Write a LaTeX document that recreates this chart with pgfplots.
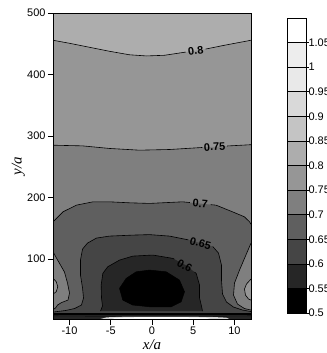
\documentclass[border=0pt]{standalone}
\usepackage{fontspec}
\setmainfont{Liberation Sans}
\newfontfamily\tnr{Liberation Serif}
\usepackage{pgfplots}
\pgfplotsset{compat=1.18}
\definecolor{c55}{HTML}{262626}
\definecolor{c60}{HTML}{454545}
\definecolor{c65}{HTML}{5F5F5F}
\definecolor{c70}{HTML}{7F7F7F}
\definecolor{c75}{HTML}{969696}
\definecolor{c80}{HTML}{ADADAD}
\definecolor{c85}{HTML}{C4C4C4}
\definecolor{c90}{HTML}{D9D9D9}
\definecolor{c95}{HTML}{E9E9E9}
\definecolor{c100}{HTML}{EDEDED}
\tikzset{cl/.style={black, line width=0.6bp, line join=round},
         lab/.style={font=\bfseries\fontsize{11}{13}\selectfont, inner sep=0pt}}
\begin{document}
\begin{tikzpicture}
\path[use as bounding box] (0,0) rectangle (327bp,353bp);
\begin{axis}[
  at={(53bp,33.5bp)}, anchor=south west, scale only axis,
  width=198bp, height=306.5bp,
  xmin=-12, xmax=12, ymin=2, ymax=500,
  xtick={-10,-5,0,5,10}, ytick={100,200,300,400,500},
  xtick pos=bottom, ytick pos=left, tick align=outside, major tick length=5bp,
  tick style={black, line width=0.6bp},
  axis line style={line width=0.8bp},
  ticklabel style={font=\fontsize{11}{13}\selectfont},
  xticklabel style={yshift=1bp},
  yticklabel style={xshift=1bp},
  /pgf/number format/assume math mode=true,
  xlabel={\tnr\itshape x/a}, ylabel={\tnr\itshape y/a},
  xlabel style={at={(axis description cs:0.5,-0.082)}, anchor=center, font=\fontsize{15}{17}\selectfont},
  ylabel style={at={(axis description cs:-0.175,0.5)}, anchor=center, font=\fontsize{15}{17}\selectfont},
  axis on top,
]
% fills
\addplot[fill=c80, draw=none] coordinates {(-12,0) (12,0) (12,500) (-12,500)};
\addplot[fill=c75, draw=none] coordinates {(-12,0) (-12,455.7) (-10,450.8) (-7.58,444.3) (-5.15,437.8) (-2.73,432.1) (-0.67,430.2) (1.52,431.3) (3.94,436.2) (6.36,441.1) (8.79,447.6) (12,455.7) (12,0)};
\addplot[fill=c70, draw=none] coordinates {(-12,0) (-12,285.2) (-8.42,284.1) (-5.15,279.9) (-1.52,277.1) (2.12,278.2) (5.76,281.2) (8.79,283.6) (12,286.0) (12,0)};
\addplot[fill=c65, draw=none] coordinates {(-12,160.7) (-10.78,177.0) (-9.16,187.8) (-7.15,193.2) (-5.15,193.2) (-2.73,191.6) (-0.30,190.6) (3.70,193.2) (7.76,187.8) (9.75,177.0) (11.21,168.8) (11.82,160.7) (12,157.0)
  (12,126.1) (11.33,105.0) (10.61,82.3) (10.0,61.2) (9.88,41.7) (10.36,27.1) (11.21,19.8) (12,17.4) (12,0) (-12,0)
  (-12,18.2) (-11.70,20.6) (-11.45,25.5) (-10.97,29.5) (-10.18,33.6) (-10.0,45.0) (-10.24,61.2) (-10.61,79.1) (-11.09,90.4) (-11.58,101.8) (-12,112.0)};
\addplot[fill=c75, draw=none] coordinates {(-12,69.3) (-11.61,63.3) (-11.42,55.2) (-11.61,47.1) (-12,43.3)};
\addplot[fill=c75, draw=none] coordinates {(12,67.7) (11.45,59.6) (11.21,51.5) (11.33,41.7) (11.7,35.2) (12,33.6)};
\addplot[fill=c60, draw=none] coordinates {(-12,14.1) (-10.48,16.6) (-9.39,19.8) (-8.55,25.5) (-8.30,36.9) (-8.42,53.1) (-8.67,74.2) (-8.67,98.5) (-8.42,116.4) (-7.82,126.1) (-6.73,134.3) (-5.15,137.5) (-2.36,139.1) (-0.30,139.9) (2.12,137.5) (4.55,131.0) (7.21,121.3) (8.06,109.9) (8.42,90.4) (8.42,66.1) (8.55,43.3) (9.03,30.4) (9.88,22.2) (10.97,17.4) (12,14.9) (12,0) (-12,0)};
\addplot[fill=c55, draw=none] coordinates {(-6.24,15.7) (-6.0,23.9) (-6.12,36.9) (-6.16,58.0) (-5.96,76.9) (-5.36,87.7) (-3.94,98.5) (-2.33,105.0) (0.10,106.7) (2.52,101.3) (4.06,90.4) (5.36,76.9) (5.76,58.0) (5.76,36.9) (6.0,23.9) (6.12,15.7)};
\addplot[fill=black, draw=black, line width=0.5bp] coordinates {(-3.94,52.6) (-3.13,68.8) (-1.92,79.5) (-0.30,82.3) (1.72,79.5) (3.33,66.1) (3.94,47.1) (3.54,30.8) (2.33,22.7) (-0.30,22.7) (-2.33,25.5) (-3.54,33.6) (-3.94,52.6)};
% near-wall strip
\addplot[fill=c55, draw=none] coordinates {(-12,0) (12,0) (12,11.5) (-12,11.5)};
\addplot[fill=c90, draw=none] coordinates {(-7,0) (-5.5,5.5) (-3,6.8) (3,6.8) (7,6.3) (9,5) (9.8,0)};
\addplot[fill=white, draw=none] coordinates {(-5.5,0) (-4.5,4.5) (-3,5.6) (0,5.8) (4,5.8) (6.5,5) (7.8,0)};
\addplot[cl, line width=0.4bp] coordinates {(-12,11.8) (12,11.8)};
\addplot[cl, line width=0.4bp] coordinates {(-12,9.8) (12,9.8)};
\addplot[cl, line width=0.4bp] coordinates {(-12,7.8) (-8,7.6) (-5,7.5) (0,7.5) (5,7.5) (9,7.6) (12,7.8)};
% contour lines
\addplot[cl] coordinates {(-12,455.7) (-10,450.8) (-7.58,444.3) (-5.15,437.8) (-2.73,432.1) (-0.67,430.2) (1.52,431.3) (3.94,436.2) (4.1,436.5)};
\addplot[cl] coordinates {(6.5,441.4) (8.79,447.6) (12,455.7)};
\addplot[cl] coordinates {(-12,285.2) (-8.42,284.1) (-5.15,279.9) (-1.52,277.1) (2.12,278.2) (5.76,281.2) (6.1,281.5)};
\addplot[cl] coordinates {(9.1,283.9) (12,286.0)};
\addplot[cl] coordinates {(-12,160.7) (-10.78,177.0) (-9.16,187.8) (-7.15,193.2) (-5.15,193.2) (-2.73,191.6) (-0.30,190.6) (3.70,193.2) (4.6,192.0)};
\addplot[cl] coordinates {(7.1,188.6) (7.76,187.8) (9.75,177.0) (11.21,168.8) (11.82,160.7) (12,157.0)};
\addplot[cl] coordinates {(12,126.1) (11.33,105.0) (10.61,82.3) (10.0,61.2) (9.88,41.7) (10.36,27.1) (11.21,19.8) (12,17.4)};
\addplot[cl] coordinates {(-12,18.2) (-11.70,20.6) (-11.45,25.5) (-10.97,29.5) (-10.18,33.6) (-10.0,45.0) (-10.24,61.2) (-10.61,79.1) (-11.09,90.4) (-11.58,101.8) (-12,112.0)};
\addplot[cl] coordinates {(-12,69.3) (-11.61,63.3) (-11.42,55.2) (-11.61,47.1) (-12,43.3)};
\addplot[cl] coordinates {(12,67.7) (11.45,59.6) (11.21,51.5) (11.33,41.7) (11.7,35.2) (12,33.6)};
\addplot[cl] coordinates {(-12,14.1) (-10.48,16.6) (-9.39,19.8) (-8.55,25.5) (-8.30,36.9) (-8.42,53.1) (-8.67,74.2) (-8.67,98.5) (-8.42,116.4) (-7.82,126.1) (-6.73,134.3) (-5.15,137.5) (-2.36,139.1) (-0.30,139.9) (2.12,137.5) (4.4,131.4)};
\addplot[cl] coordinates {(7.35,120.8) (8.06,109.9) (8.42,90.4) (8.42,66.1) (8.55,43.3) (9.03,30.4) (9.88,22.2) (10.97,17.4) (12,14.9)};
\addplot[cl] coordinates {(-6.24,15.7) (-6.0,23.9) (-6.12,36.9) (-6.16,58.0) (-5.96,76.9) (-5.36,87.7) (-3.94,98.5) (-2.33,105.0) (0.10,106.7) (2.52,101.3) (2.7,100.2)};
\addplot[cl] coordinates {(5.15,79.0) (5.36,76.9) (5.76,58.0) (5.76,36.9) (6.0,23.9) (6.12,15.7)};
% contour labels
\node[lab, rotate=8] at (axis cs:5.3,438.9) {0.8};
\node[lab, rotate=3] at (axis cs:7.6,282.6) {0.75};
\node[lab, rotate=-5] at (axis cs:5.85,190.4) {0.7};
\node[lab, rotate=-15] at (axis cs:5.88,126.0) {0.65};
\node[lab, rotate=-30] at (axis cs:3.95,89.5) {0.6};
\end{axis}
\begin{axis}[
  at={(287bp,40bp)}, anchor=south west, scale only axis,
  width=19bp, height=295bp,
  xmin=0, xmax=1, ymin=0.5, ymax=1.1,
  xtick=\empty,
  ytick={0.5,0.55,0.6,0.65,0.7,0.75,0.8,0.85,0.9,0.95,1,1.05},
  yticklabels={0.5,0.55,0.6,0.65,0.7,0.75,0.8,0.85,0.9,0.95,1,1.05},
  ytick pos=right, yticklabel pos=right, tick align=outside, major tick length=2.5bp,
  tick style={black, line width=0.6bp},
  axis line style={line width=0.6bp},
  ticklabel style={font=\fontsize{11}{13}\selectfont},
  yticklabel style={xshift=-3.5bp},
  axis on top,
]
\addplot[fill=black, draw=black, line width=0.6bp] coordinates {(0,0.5) (1,0.5) (1,0.55) (0,0.55) (0,0.5)};
\addplot[fill=c55, draw=black, line width=0.6bp] coordinates {(0,0.55) (1,0.55) (1,0.6) (0,0.6) (0,0.55)};
\addplot[fill=c60, draw=black, line width=0.6bp] coordinates {(0,0.6) (1,0.6) (1,0.65) (0,0.65) (0,0.6)};
\addplot[fill=c65, draw=black, line width=0.6bp] coordinates {(0,0.65) (1,0.65) (1,0.7) (0,0.7) (0,0.65)};
\addplot[fill=c70, draw=black, line width=0.6bp] coordinates {(0,0.7) (1,0.7) (1,0.75) (0,0.75) (0,0.7)};
\addplot[fill=c75, draw=black, line width=0.6bp] coordinates {(0,0.75) (1,0.75) (1,0.8) (0,0.8) (0,0.75)};
\addplot[fill=c80, draw=black, line width=0.6bp] coordinates {(0,0.8) (1,0.8) (1,0.85) (0,0.85) (0,0.8)};
\addplot[fill=c85, draw=black, line width=0.6bp] coordinates {(0,0.85) (1,0.85) (1,0.9) (0,0.9) (0,0.85)};
\addplot[fill=c90, draw=black, line width=0.6bp] coordinates {(0,0.9) (1,0.9) (1,0.95) (0,0.95) (0,0.9)};
\addplot[fill=c95, draw=black, line width=0.6bp] coordinates {(0,0.95) (1,0.95) (1,1) (0,1) (0,0.95)};
\addplot[fill=c100, draw=black, line width=0.6bp] coordinates {(0,1) (1,1) (1,1.05) (0,1.05) (0,1)};
\addplot[fill=white, draw=black, line width=0.6bp] coordinates {(0,1.05) (1,1.05) (1,1.1) (0,1.1) (0,1.05)};
\end{axis}
\end{tikzpicture}
\end{document}
